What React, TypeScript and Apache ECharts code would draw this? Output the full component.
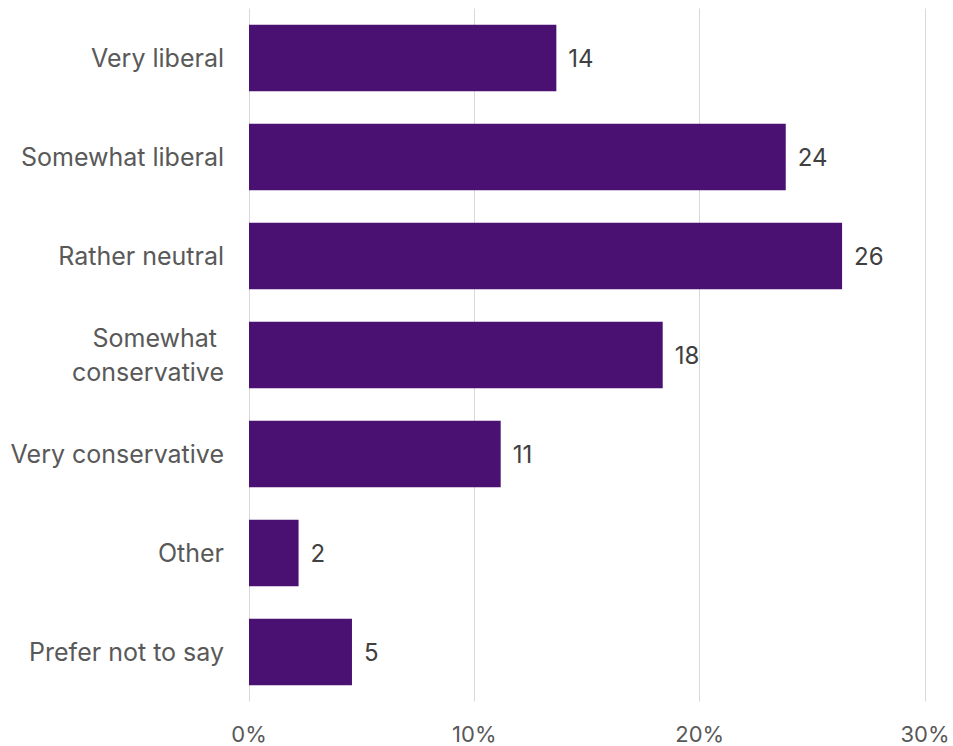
import React, { useEffect, useRef } from "react";
import * as echarts from "echarts";

const categories = [
  "Very liberal",
  "Somewhat liberal",
  "Rather neutral",
  "Somewhat \nconservative",
  "Very conservative",
  "Other",
  "Prefer not to say",
];
const values = [13.64, 23.82, 26.32, 18.36, 11.17, 2.2, 4.57];
const valueLabels = ["14", "24", "26", "18", "11", "2", "5"];
const xTicks = [0, 10, 20, 30];

export default function App() {
  const ref = useRef<HTMLDivElement>(null);
  useEffect(() => {
    if (!ref.current) return;
    const chart = echarts.init(ref.current, undefined, { renderer: "svg" });
    const font = "Inter, 'Open Sans', sans-serif";
    chart.setOption({
      animation: false,
      grid: { left: 249, right: 28, top: 8.5, bottom: 44.5, containLabel: false },
      xAxis: {
        type: "value",
        min: xTicks[0],
        max: xTicks[xTicks.length - 1],
        interval: 10,
        axisLine: { show: false },
        axisTick: { show: false },
        splitLine: { show: true, lineStyle: { color: "#d9d9d9", width: 1 } },
        axisLabel: {
          formatter: "{value}%",
          color: "#595959",
          fontSize: 22,
          fontFamily: font,
          margin: 21,
        },
      },
      yAxis: {
        type: "category",
        data: categories,
        inverse: true,
        axisLine: { show: false },
        axisTick: { show: false },
        splitLine: { show: false },
        axisLabel: {
          color: "#595959",
          fontSize: 25,
          fontFamily: font,
          margin: 25,
          lineHeight: 34,
          align: "right",
        },
      },
      series: [
        {
          type: "bar",
          data: values,
          barCategoryGap: "33%",
          itemStyle: { color: "#4a1172" },
          label: {
            show: true,
            position: "right",
            distance: 12,
            color: "#404040",
            fontSize: 24,
            fontFamily: font,
            formatter: (p: any) => valueLabels[p.dataIndex],
          },
        },
      ],
    });
    return () => chart.dispose();
  }, []);
  return (
    <div
      ref={ref}
      style={{ position: "absolute", left: 0, top: 0, width: 953, height: 746 }}
    />
  );
}
